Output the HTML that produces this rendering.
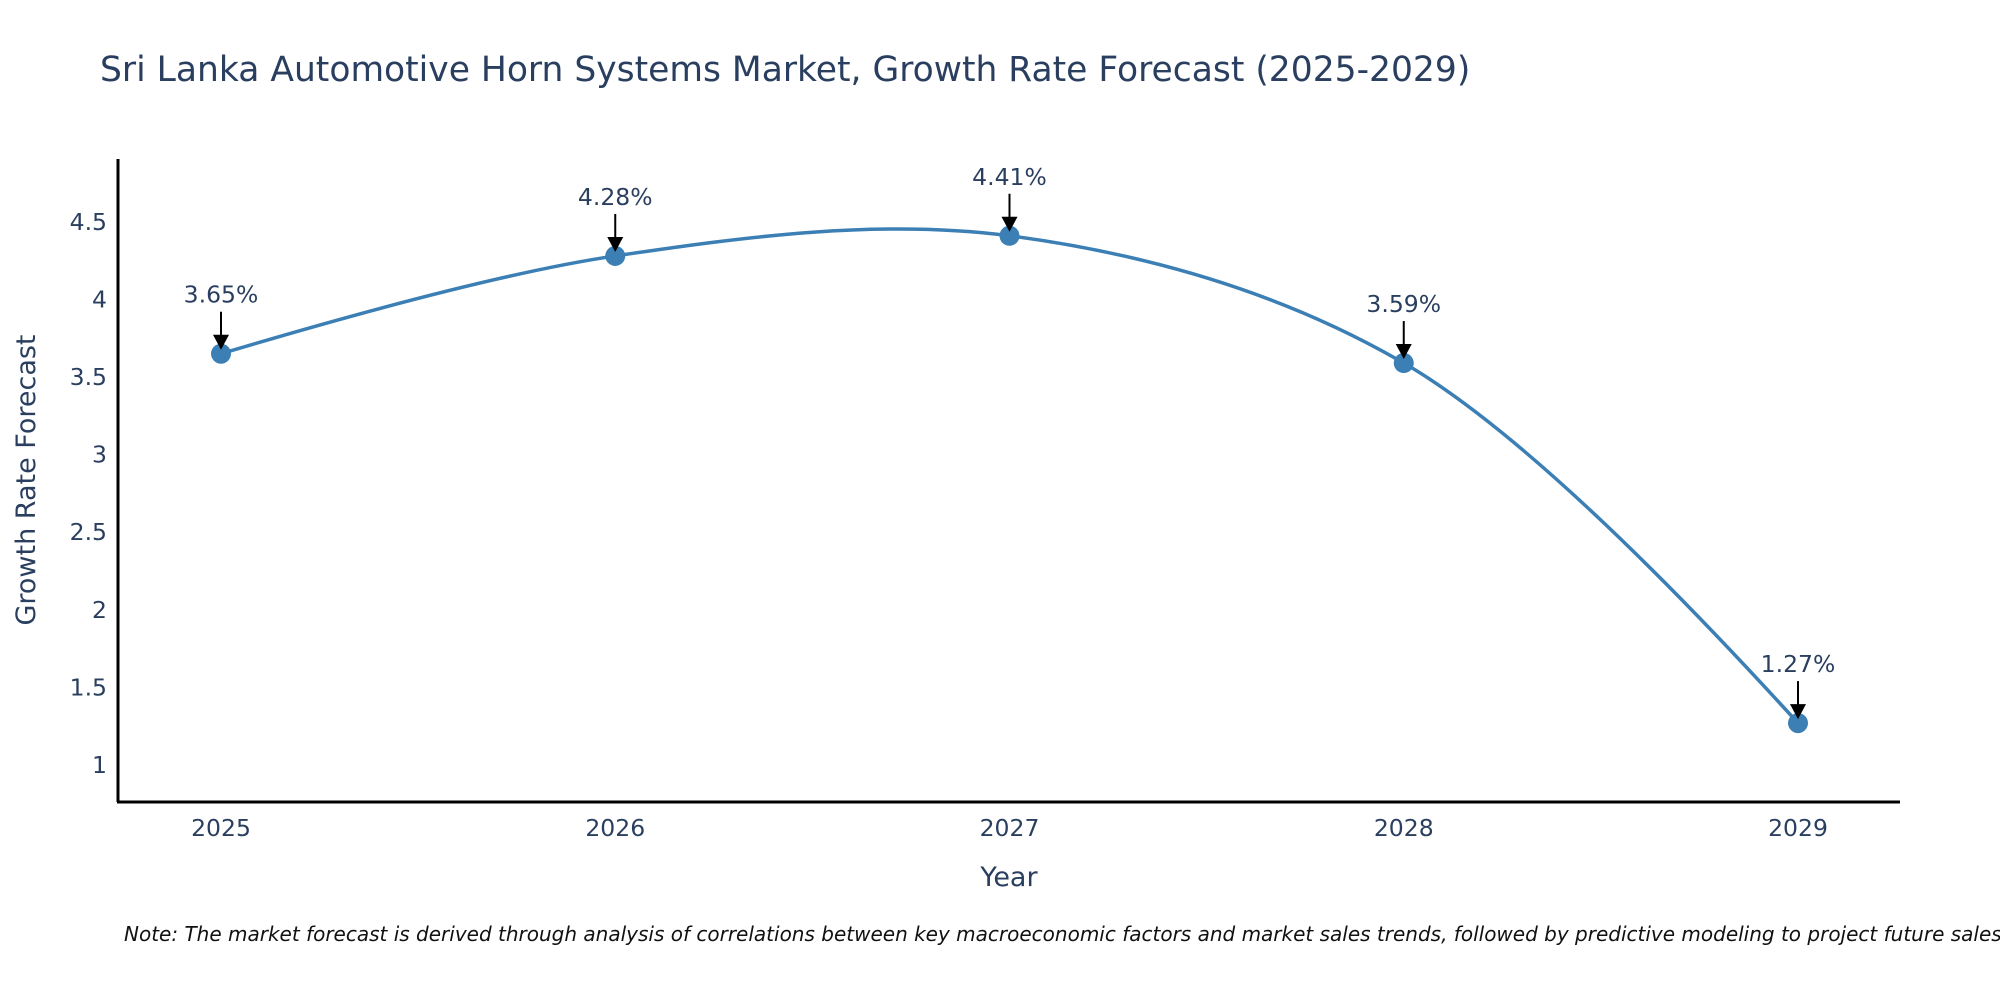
<!DOCTYPE html>
<html><head><meta charset="utf-8"><style>
html,body{margin:0;padding:0;background:#fff;}
svg{display:block;font-family:"DejaVu Sans","Liberation Sans",sans-serif;}
</style></head><body>
<svg id="chart" width="2000" height="1000" viewBox="0 0 2000 1000">
<text x="100" y="81" font-size="34.5" fill="#2a3f5f">Sri Lanka Automotive Horn Systems Market, Growth Rate Forecast (2025-2029)</text>
<g id="yticks"></g>
<g id="xticks"></g>
<line x1="118" y1="159" x2="118" y2="802" stroke="#000" stroke-width="3"/>
<line x1="117" y1="802" x2="1900" y2="802" stroke="#000" stroke-width="3"/>
<path id="line" fill="none" stroke="#3b7fb5" stroke-width="3.5"/>
<g id="points"></g>
<g id="annos"></g>
<text x="1009" y="886" font-size="27" fill="#2a3f5f" text-anchor="middle">Year</text>
<text transform="translate(35,480) rotate(-90)" font-size="27" fill="#2a3f5f" text-anchor="middle">Growth Rate Forecast</text>
<text x="124" y="941" font-size="20" font-style="italic" fill="#111">Note: The market forecast is derived through analysis of correlations between key macroeconomic factors and market sales trends, followed by predictive modeling to project future sales.</text>
</svg>
<script>
const years = ["2025","2026","2027","2028","2029"];
const values = [3.65,4.28,4.41,3.59,1.27];
const labels = ["3.65%","4.28%","4.41%","3.59%","1.27%"];
const yTicks = [1,1.5,2,2.5,3,3.5,4,4.5];
const yTickLabels = ["1","1.5","2","2.5","3","3.5","4","4.5"];
const NS="http://www.w3.org/2000/svg";
function xs(i){return 221+i*(1798-221)/(years.length-1);}
function ys(v){return 765-(v-1)*155.2;}
function mk(t,a){const e=document.createElementNS(NS,t);for(const k in a)e.setAttribute(k,a[k]);return e;}
const yg=document.getElementById('yticks');
yTicks.forEach((v,i)=>{const t=mk('text',{x:107,y:ys(v)+8,'font-size':23.5,fill:'#2a3f5f','text-anchor':'end'});


t.textContent=yTickLabels[i];yg.appendChild(t);});
const xg=document.getElementById('xticks');
years.forEach((y,i)=>{const t=mk('text',{x:xs(i),y:836,'font-size':23.5,fill:'#2a3f5f','text-anchor':'middle'});


t.textContent=y;xg.appendChild(t);});
const pts=values.map((v,i)=>[xs(i),ys(v)]);
function tang(p0,p1,p2){const dx0=p0[0]-p1[0],dy0=p0[1]-p1[1],dx2=p2[0]-p1[0],dy2=p2[1]-p1[1];
const d0=Math.pow(dx0*dx0+dy0*dy0,0.25),d2=Math.pow(dx2*dx2+dy2*dy2,0.25);
const nx=(d2*d2*dx0-d0*d0*dx2),ny=(d2*d2*dy0-d0*d0*dy2);
const de0=3*d2*(d0+d2),de2=3*d0*(d0+d2);
return [[p1[0]+nx/de0,p1[1]+ny/de0],[p1[0]-nx/de2,p1[1]-ny/de2]];}
const T=[];for(let i=1;i<pts.length-1;i++)T.push(tang(pts[i-1],pts[i],pts[i+1]));
let d=`M${pts[0]} Q${T[0][0]} ${pts[1]}`;
for(let i=1;i<pts.length-2;i++)d+=` C${T[i-1][1]} ${T[i][0]} ${pts[i+1]}`;
d+=` Q${T[T.length-1][1]} ${pts[pts.length-1]}`;
document.getElementById('line').setAttribute('d',d);
const pg=document.getElementById('points'),ag=document.getElementById('annos');
pts.forEach((p,i)=>{const c=mk('circle',{cx:p[0],cy:p[1],r:10,fill:'#3b7fb5'});


pg.appendChild(c);
const g=mk('g',{});


g.appendChild(mk('line',{x1:p[0],y1:p[1]-42,x2:p[0],y2:p[1]-14,stroke:'#000','stroke-width':2}));
g.appendChild(mk('path',{d:`M${p[0]-8},${p[1]-19} L${p[0]+8},${p[1]-19} L${p[0]},${p[1]-4} Z`,fill:'#000'}));
const t=mk('text',{x:p[0],y:p[1]-51,'font-size':23.5,fill:'#2a3f5f','text-anchor':'middle'});
t.textContent=labels[i];g.appendChild(t);ag.appendChild(g);});
</script>
</body></html>
